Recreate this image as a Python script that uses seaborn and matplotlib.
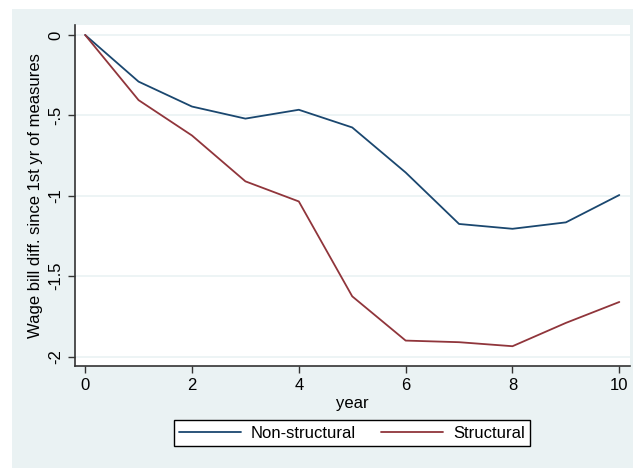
import matplotlib
matplotlib.use("Agg")
import matplotlib.pyplot as plt
from matplotlib.patches import Rectangle
import seaborn as sns
import pandas as pd

years = [0, 1, 2, 3, 4, 5, 6, 7, 8, 9, 10]
non_structural = [0, -0.29, -0.445, -0.52, -0.465, -0.575, -0.855, -1.175, -1.205, -1.165, -0.995]
structural = [0, -0.405, -0.625, -0.91, -1.035, -1.625, -1.9, -1.91, -1.935, -1.79, -1.66]
series_names = ["Non-structural", "Structural"]
y_ticks = [0, -0.5, -1, -1.5, -2]
y_tick_labels = ["0", "-.5", "-1", "-1.5", "-2"]
x_ticks = [0, 2, 4, 6, 8, 10]

df = pd.DataFrame({
    "year": years * 2,
    "value": non_structural + structural,
    "series": [series_names[0]] * len(years) + [series_names[1]] * len(years),
})

sns.set_theme(style="white")
plt.rcParams["font.family"] = ["Liberation Sans", "DejaVu Sans"]
plt.rcParams["text.color"] = "black"
plt.rcParams["axes.labelcolor"] = "black"
plt.rcParams["xtick.color"] = "black"
plt.rcParams["ytick.color"] = "black"

bg = "#eaf2f3"
fig = plt.figure(figsize=(6.33, 4.68), dpi=100)
fig.patch.set_facecolor("white")
fig.patches.append(Rectangle((12 / 633, 0), 1 - 12 / 633, 1 - 9 / 468,
                             transform=fig.transFigure, facecolor=bg,
                             edgecolor="none", zorder=-5))

ax = fig.add_axes([75 / 633, 1 - 366 / 468, (630 - 75) / 633, (366 - 25) / 468])
ax.set_zorder(2)
ax.set_facecolor("white")

sns.lineplot(data=df, x="year", y="value", hue="series", ax=ax,
             palette=["#1a476f", "#90353b"], linewidth=1.3, legend=False)

ax.set_xlim(-0.19, 10.2)
ax.set_ylim(-2.058, 0.062)
ax.set_yticks(y_ticks)
ax.set_yticklabels(y_tick_labels, rotation=90, va="center")
ax.set_xticks(x_ticks)
ax.tick_params(axis="both", labelsize=12, length=5, width=1, color="#333333",
               direction="out", bottom=True, left=True)
ax.yaxis.grid(True, color=bg, linewidth=1.2)
ax.set_axisbelow(True)

for s in ["top", "right"]:
    ax.spines[s].set_visible(False)
for s in ["left", "bottom"]:
    ax.spines[s].set_color("#333333")
    ax.spines[s].set_linewidth(1.2)

ax.set_xlabel("year", fontsize=12, labelpad=2)
ax.set_ylabel("Wage bill diff. since 1st yr of measures", fontsize=12, labelpad=4)

handles = [plt.Line2D([], [], color="#1a476f", linewidth=1.3),
           plt.Line2D([], [], color="#90353b", linewidth=1.3)]
leg = fig.legend(handles, series_names, loc="center", ncol=2,
                 bbox_to_anchor=(352 / 633, 1 - 433 / 468), fontsize=12,
                 frameon=True, fancybox=False, edgecolor="black",
                 facecolor="white", framealpha=1,
                 handlelength=3.7, handletextpad=0.6, columnspacing=1.5,
                 borderpad=0.35)
leg.get_frame().set_linewidth(1)

fig.savefig("out.png", dpi=100)
